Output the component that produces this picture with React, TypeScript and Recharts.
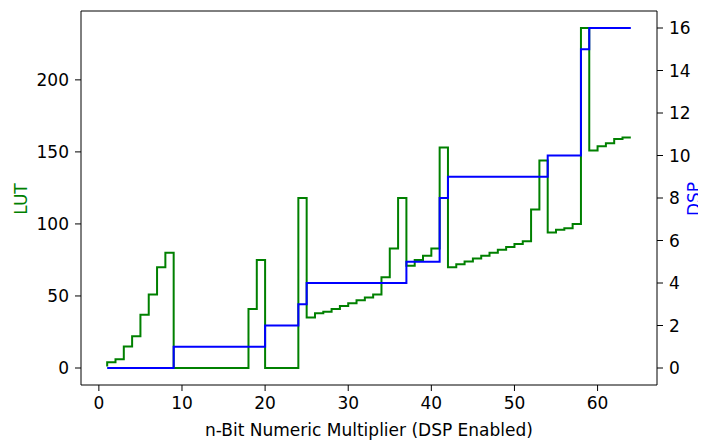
import React from 'react'
import { LineChart, Line, XAxis, YAxis, ReferenceLine } from 'recharts'

// multiplier width in bits
const bits = [
  1, 2, 3, 4, 5, 6, 7, 8, 9, 10, 11, 12, 13, 14, 15, 16,
  17, 18, 19, 20, 21, 22, 23, 24, 25, 26, 27, 28, 29, 30, 31, 32,
  33, 34, 35, 36, 37, 38, 39, 40, 41, 42, 43, 44, 45, 46, 47, 48,
  49, 50, 51, 52, 53, 54, 55, 56, 57, 58, 59, 60, 61, 62, 63, 64,
]

const lutCounts = [
  1, 4, 6, 15, 22, 37, 51, 70, 80, 0, 0, 0, 0, 0, 0, 0,
  0, 0, 41, 75, 0, 0, 0, 0, 118, 35, 38, 39, 41, 43, 45, 47,
  49, 51, 63, 83, 118, 71, 75, 78, 83, 153, 70, 72, 74, 76, 78, 80,
  82, 84, 86, 88, 110, 144, 94, 96, 97, 100, 236, 151, 154, 156, 159, 160,
]

const dspCounts = [
  0, 0, 0, 0, 0, 0, 0, 0, 0, 1, 1, 1, 1, 1, 1, 1,
  1, 1, 1, 1, 2, 2, 2, 2, 3, 4, 4, 4, 4, 4, 4, 4,
  4, 4, 4, 4, 4, 5, 5, 5, 5, 8, 9, 9, 9, 9, 9, 9,
  9, 9, 9, 9, 9, 9, 10, 10, 10, 10, 15, 16, 16, 16, 16, 16,
]

const xTicks = [0, 10, 20, 30, 40, 50, 60]
const lutTicks = [0, 50, 100, 150, 200]
const dspTicks = [0, 2, 4, 6, 8, 10, 12, 14, 16]

const data = bits.map((n, i) => ({ n, lut: lutCounts[i], dsp: dspCounts[i] }))

const FONT = 'DejaVu Sans'
const tickStyle = { fill: '#000', fontSize: 17, fontFamily: FONT }

export default function App() {
  return (
    <div style={{ position: 'relative', width: 698, height: 433, overflow: 'hidden' }}>
      <LineChart
        width={698}
        height={433}
        data={data}
        margin={{ top: 3, right: 9, bottom: 16, left: 13 }}
        style={{ fontFamily: FONT }}
      >
        <XAxis
          dataKey="n"
          type="number"
          domain={[-2.15, 67.15]}
          ticks={xTicks}
          allowDataOverflow
          height={40}
          tick={tickStyle}
          tickSize={6}
          tickMargin={6}
          stroke="#000"
        />
        <YAxis
          yAxisId="lut"
          domain={[-11.8, 247.8]}
          ticks={lutTicks}
          allowDataOverflow
          width={60}
          tick={tickStyle}
          tickSize={6}
          tickMargin={6}
          stroke="#000"
        />
        <YAxis
          yAxisId="dsp"
          orientation="right"
          domain={[-0.8, 16.8]}
          ticks={dspTicks}
          allowDataOverflow
          width={40}
          tick={tickStyle}
          tickSize={6}
          tickMargin={6}
          stroke="#000"
        />
        <ReferenceLine yAxisId="lut" y={247.8} stroke="#000" />
        <Line
          yAxisId="lut"
          dataKey="lut"
          type="stepBefore"
          stroke="#008000"
          strokeWidth={2}
          dot={false}
          isAnimationActive={false}
        />
        <Line
          yAxisId="dsp"
          dataKey="dsp"
          type="stepBefore"
          stroke="#0000ff"
          strokeWidth={2}
          dot={false}
          isAnimationActive={false}
        />
      </LineChart>
      <svg
        width={698}
        height={433}
        style={{ position: 'absolute', left: 0, top: 0, pointerEvents: 'none' }}
        fontFamily={FONT}
        fontSize={17}
      >
        <text transform="translate(19,191) rotate(-90)" textAnchor="middle" fill="#008000">
          LUT
        </text>
        <text transform="translate(692,191) rotate(-90)" textAnchor="middle" fill="#0000ff">
          DSP
        </text>
        <text x={361} y={428} textAnchor="middle" fill="#000">
          n-Bit Numeric Multiplier (DSP Enabled)
        </text>
      </svg>
    </div>
  )
}
